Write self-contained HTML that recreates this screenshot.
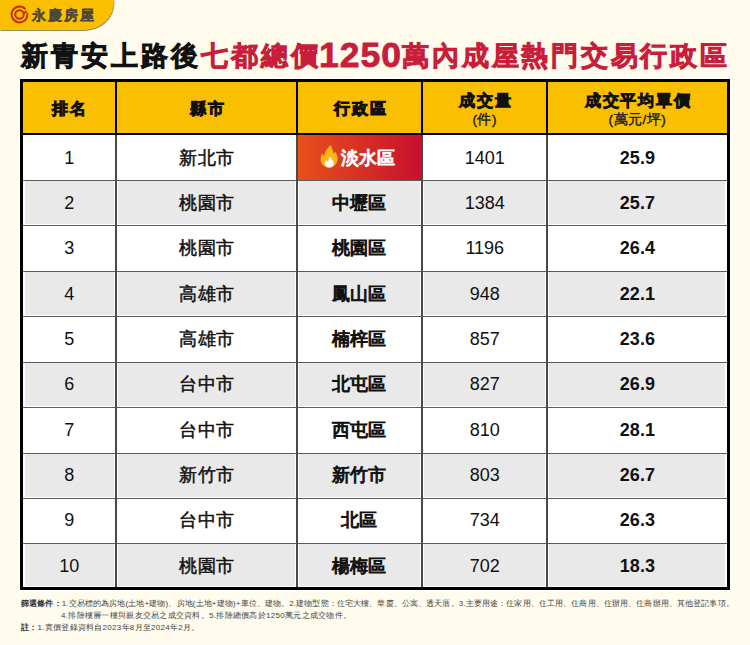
<!DOCTYPE html>
<html lang="zh-Hant">
<head>
<meta charset="utf-8">
<style>
*{margin:0;padding:0;box-sizing:border-box}
html,body{width:750px;height:645px;overflow:hidden}
body{background:#FFFCED;font-family:"Liberation Sans",sans-serif;position:relative;color:#111}
.tab{position:absolute;left:0;top:0;width:114px;height:30px;background:#F9BF00;border-bottom-right-radius:30px 28px;box-shadow:0.5px 1px 0 rgba(120,90,20,.7)}
.logo{position:absolute;left:9px;top:4px;width:21px;height:21px}
.brand{position:absolute;left:32px;top:5.5px;font-size:14px;color:#4D473A;letter-spacing:2.1px;line-height:18px;white-space:nowrap;-webkit-text-stroke:1px #4D473A}
.title{position:absolute;left:21px;top:34.5px;font-size:27px;line-height:36px;white-space:nowrap;color:#111;letter-spacing:3px;-webkit-text-stroke:1.8px #111}
.title .r{color:#C81E3C;-webkit-text-stroke:1.8px #C81E3C}
.title .d{font-size:35.5px;font-weight:700;letter-spacing:1px;-webkit-text-stroke:.8px #C81E3C;position:relative;top:2.5px;margin-right:.5px;margin-left:-2px}
.title .e{letter-spacing:2.75px}
.tbl{position:absolute;left:20px;top:79px;width:710px;height:511px;border:3px solid #000;background:#fff;box-shadow:0 0 0 1px #fff;overflow:hidden}
.hd{position:absolute;left:0;top:0;width:704px;height:53px;background:#F9BF00;border-bottom:2px solid #000}
.row{position:absolute}
.row.g{background:#E9E9E9}
.hl{position:absolute;left:0;width:704px;height:1px;background:#5c5c5c}
.vl{position:absolute;top:0;width:1.5px;height:505px;background:#4a4a4a}
.vh{position:absolute;top:0;width:2px;height:53px;background:#000}
.c{position:absolute;text-align:center;white-space:nowrap}
.hc{font-size:16px;line-height:20px;letter-spacing:1.9px;-webkit-text-stroke:1.5px #111;text-indent:1.9px}
.sub{font-size:13.5px;line-height:14px;letter-spacing:.5px;-webkit-text-stroke:.4px #222;color:#222}
.b{font-size:18px;line-height:20px}
.cj{letter-spacing:.3px;text-indent:.3px;-webkit-text-stroke:.5px #111}
.bb{font-weight:700}
.cb{font-size:17.5px;letter-spacing:0;-webkit-text-stroke:1px #111}
.red{position:absolute;left:274.8px;top:53px;width:123.4px;height:44.5px;background:linear-gradient(90deg,#E6511B,#C8102E)}
.red .fl{position:absolute;left:22px;top:10px;width:18px;height:23px}
.red .tx{position:absolute;left:43px;top:12.5px;font-size:17.5px;line-height:20px;letter-spacing:.3px;color:#fff;-webkit-text-stroke:1.1px #fff;white-space:nowrap}
.note{position:absolute;left:21px;font-size:8px;line-height:12px;color:#444;white-space:nowrap}
.note b{font-weight:700;color:#333}
i{display:inline-block;font-style:normal}
</style>
</head>
<body>
<div class="tab">
<svg class="logo" viewBox="0 0 21 21"><g fill="none" stroke="#C4301C" stroke-width="2"><path d="M16.55 5.42A7.9 7.9 0 1 0 18.4 10.5"/><circle cx="10.5" cy="10.5" r="4.2"/><path d="M14.3 9.6L17.6 7.2"/></g><path d="M17.2 8.6L20 9.6L17.8 11Z" fill="#C4301C"/></svg>
<div class="brand"><i style="width:16.1px">永</i><i style="width:16.1px">慶</i><i style="width:16.1px">房</i><i style="width:16.1px">屋</i></div>
</div>
<div class="title"><i style="width:30px">新</i><i style="width:30px">青</i><i style="width:30px">安</i><i style="width:30px">上</i><i style="width:30px">路</i><i style="width:30px">後</i><span class="r"><i style="width:30px">七</i><i style="width:30px">都</i><i style="width:30px">總</i><i style="width:30px">價</i><span class="d">1250</span><span class="e"><i style="width:29.75px">萬</i><i style="width:29.75px">內</i><i style="width:29.75px">成</i><i style="width:29.75px">屋</i><i style="width:29.75px">熱</i><i style="width:29.75px">門</i><i style="width:29.75px">交</i><i style="width:29.75px">易</i><i style="width:29.75px">行</i><i style="width:29.75px">政</i><i style="width:29.75px">區</i></span></span></div>
<div class="tbl">
<div class="hd"></div>
<div class="row g" style="left:1.50px;width:89.75px;top:98.93px;height:43.43px"></div>
<div class="row g" style="left:94.75px;width:177.50px;top:98.93px;height:43.43px"></div>
<div class="row g" style="left:275.75px;width:121.50px;top:98.93px;height:43.43px"></div>
<div class="row g" style="left:400.75px;width:121.60px;top:98.93px;height:43.43px"></div>
<div class="row g" style="left:525.85px;width:176.65px;top:98.93px;height:43.43px"></div>
<div class="row g" style="left:1.50px;width:89.75px;top:189.79px;height:43.43px"></div>
<div class="row g" style="left:94.75px;width:177.50px;top:189.79px;height:43.43px"></div>
<div class="row g" style="left:275.75px;width:121.50px;top:189.79px;height:43.43px"></div>
<div class="row g" style="left:400.75px;width:121.60px;top:189.79px;height:43.43px"></div>
<div class="row g" style="left:525.85px;width:176.65px;top:189.79px;height:43.43px"></div>
<div class="row g" style="left:1.50px;width:89.75px;top:280.65px;height:43.43px"></div>
<div class="row g" style="left:94.75px;width:177.50px;top:280.65px;height:43.43px"></div>
<div class="row g" style="left:275.75px;width:121.50px;top:280.65px;height:43.43px"></div>
<div class="row g" style="left:400.75px;width:121.60px;top:280.65px;height:43.43px"></div>
<div class="row g" style="left:525.85px;width:176.65px;top:280.65px;height:43.43px"></div>
<div class="row g" style="left:1.50px;width:89.75px;top:371.51px;height:43.43px"></div>
<div class="row g" style="left:94.75px;width:177.50px;top:371.51px;height:43.43px"></div>
<div class="row g" style="left:275.75px;width:121.50px;top:371.51px;height:43.43px"></div>
<div class="row g" style="left:400.75px;width:121.60px;top:371.51px;height:43.43px"></div>
<div class="row g" style="left:525.85px;width:176.65px;top:371.51px;height:43.43px"></div>
<div class="row g" style="left:1.50px;width:89.75px;top:462.37px;height:41.63px"></div>
<div class="row g" style="left:94.75px;width:177.50px;top:462.37px;height:41.63px"></div>
<div class="row g" style="left:275.75px;width:121.50px;top:462.37px;height:41.63px"></div>
<div class="row g" style="left:400.75px;width:121.60px;top:462.37px;height:41.63px"></div>
<div class="row g" style="left:525.85px;width:176.65px;top:462.37px;height:41.63px"></div>
<div class="red"><svg class="fl" viewBox="0 0 18 23"><path d="M10.8 0C11.5 3 13 5 13.6 8.6C14 8 14.6 7.5 15 6.7C17 9 17.8 11.5 17.6 14C17.4 19 13.5 22.6 9 22.6C4.5 22.6 .6 19 .6 14.5C.6 11.5 1.8 9.8 2.6 8.5C3 10 3.6 10.8 4.2 11.2C4.5 6.5 7.5 3 10.8 0Z" fill="#FBB616"/><path d="M10.3 11.4C11 14 13.8 15.5 13.8 18.5C13.8 21 11.8 22.6 9.3 22.6C6.8 22.6 5 21 5 18.8C5 17 6 16 6.8 15C7.2 16.3 7.7 16.8 8.3 17C8.3 15 9 13 10.3 11.4Z" fill="#fff"/></svg><span class="tx">淡水區</span></div>
<div class="hl" style="top:97.93px"></div>
<div class="hl" style="top:143.36px"></div>
<div class="hl" style="top:188.79px"></div>
<div class="hl" style="top:234.22px"></div>
<div class="hl" style="top:279.65px"></div>
<div class="hl" style="top:325.08px"></div>
<div class="hl" style="top:370.51px"></div>
<div class="hl" style="top:415.94px"></div>
<div class="hl" style="top:461.37px"></div>
<div class="vl" style="left:92.25px"></div>
<div class="vh" style="left:92.00px"></div>
<div class="vl" style="left:273.25px"></div>
<div class="vh" style="left:273.00px"></div>
<div class="vl" style="left:398.25px"></div>
<div class="vh" style="left:398.00px"></div>
<div class="vl" style="left:523.35px"></div>
<div class="vh" style="left:523.10px"></div>
<div class="c hc" style="left:0.0px;width:92.7px;top:16.5px">排名</div>
<div class="c hc" style="left:93.7px;width:180.0px;top:16.5px">縣市</div>
<div class="c hc" style="left:274.7px;width:124.0px;top:16.5px">行政區</div>
<div class="c hc" style="left:399.7px;width:124.1px;top:9px">成交量</div>
<div class="c sub" style="left:399.7px;width:124.1px;top:31px">(件)</div>
<div class="c hc" style="left:524.8px;width:179.2px;top:9px">成交平均單價</div>
<div class="c sub" style="left:524.8px;width:179.2px;top:31px">(萬元/坪)</div>
<div class="c b" style="left:0.0px;width:92.7px;top:65.72px">1</div>
<div class="c b cj" style="left:93.7px;width:180.0px;top:65.72px">新北市</div>
<div class="c b" style="left:399.7px;width:124.1px;top:65.72px">1401</div>
<div class="c b bb" style="left:524.8px;width:179.2px;top:65.72px">25.9</div>
<div class="c b" style="left:0.0px;width:92.7px;top:111.05px">2</div>
<div class="c b cj" style="left:93.7px;width:180.0px;top:111.05px">桃園市</div>
<div class="c b cb" style="left:273.7px;width:124.0px;top:111.05px">中壢區</div>
<div class="c b" style="left:399.7px;width:124.1px;top:111.05px">1384</div>
<div class="c b bb" style="left:524.8px;width:179.2px;top:111.05px">25.7</div>
<div class="c b" style="left:0.0px;width:92.7px;top:156.38px">3</div>
<div class="c b cj" style="left:93.7px;width:180.0px;top:156.38px">桃園市</div>
<div class="c b cb" style="left:273.7px;width:124.0px;top:156.38px">桃園區</div>
<div class="c b" style="left:399.7px;width:124.1px;top:156.38px">1196</div>
<div class="c b bb" style="left:524.8px;width:179.2px;top:156.38px">26.4</div>
<div class="c b" style="left:0.0px;width:92.7px;top:201.71px">4</div>
<div class="c b cj" style="left:93.7px;width:180.0px;top:201.71px">高雄市</div>
<div class="c b cb" style="left:273.7px;width:124.0px;top:201.71px">鳳山區</div>
<div class="c b" style="left:399.7px;width:124.1px;top:201.71px">948</div>
<div class="c b bb" style="left:524.8px;width:179.2px;top:201.71px">22.1</div>
<div class="c b" style="left:0.0px;width:92.7px;top:247.03px">5</div>
<div class="c b cj" style="left:93.7px;width:180.0px;top:247.03px">高雄市</div>
<div class="c b cb" style="left:273.7px;width:124.0px;top:247.03px">楠梓區</div>
<div class="c b" style="left:399.7px;width:124.1px;top:247.03px">857</div>
<div class="c b bb" style="left:524.8px;width:179.2px;top:247.03px">23.6</div>
<div class="c b" style="left:0.0px;width:92.7px;top:292.37px">6</div>
<div class="c b cj" style="left:93.7px;width:180.0px;top:292.37px">台中市</div>
<div class="c b cb" style="left:273.7px;width:124.0px;top:292.37px">北屯區</div>
<div class="c b" style="left:399.7px;width:124.1px;top:292.37px">827</div>
<div class="c b bb" style="left:524.8px;width:179.2px;top:292.37px">26.9</div>
<div class="c b" style="left:0.0px;width:92.7px;top:337.70px">7</div>
<div class="c b cj" style="left:93.7px;width:180.0px;top:337.70px">台中市</div>
<div class="c b cb" style="left:273.7px;width:124.0px;top:337.70px">西屯區</div>
<div class="c b" style="left:399.7px;width:124.1px;top:337.70px">810</div>
<div class="c b bb" style="left:524.8px;width:179.2px;top:337.70px">28.1</div>
<div class="c b" style="left:0.0px;width:92.7px;top:383.02px">8</div>
<div class="c b cj" style="left:93.7px;width:180.0px;top:383.02px">新竹市</div>
<div class="c b cb" style="left:273.7px;width:124.0px;top:383.02px">新竹市</div>
<div class="c b" style="left:399.7px;width:124.1px;top:383.02px">803</div>
<div class="c b bb" style="left:524.8px;width:179.2px;top:383.02px">26.7</div>
<div class="c b" style="left:0.0px;width:92.7px;top:428.36px">9</div>
<div class="c b cj" style="left:93.7px;width:180.0px;top:428.36px">台中市</div>
<div class="c b cb" style="left:273.7px;width:124.0px;top:428.36px">北區</div>
<div class="c b" style="left:399.7px;width:124.1px;top:428.36px">734</div>
<div class="c b bb" style="left:524.8px;width:179.2px;top:428.36px">26.3</div>
<div class="c b" style="left:0.0px;width:92.7px;top:473.68px">10</div>
<div class="c b cj" style="left:93.7px;width:180.0px;top:473.68px">桃園市</div>
<div class="c b cb" style="left:273.7px;width:124.0px;top:473.68px">楊梅區</div>
<div class="c b" style="left:399.7px;width:124.1px;top:473.68px">702</div>
<div class="c b bb" style="left:524.8px;width:179.2px;top:473.68px">18.3</div>
</div>
<div class="note" style="top:597.5px;letter-spacing:.14px"><b><i style="width:8.14px">篩</i><i style="width:8.14px">選</i><i style="width:8.14px">條</i><i style="width:8.14px">件</i><i style="width:8.14px">：</i></b>1.<i style="width:8.14px">交</i><i style="width:8.14px">易</i><i style="width:8.14px">標</i><i style="width:8.14px">的</i><i style="width:8.14px">為</i><i style="width:8.14px">房</i><i style="width:8.14px">地</i>(<i style="width:8.14px">土</i><i style="width:8.14px">地</i>+<i style="width:8.14px">建</i><i style="width:8.14px">物</i>)<i style="width:8.14px">、</i><i style="width:8.14px">房</i><i style="width:8.14px">地</i>(<i style="width:8.14px">土</i><i style="width:8.14px">地</i>+<i style="width:8.14px">建</i><i style="width:8.14px">物</i>)+<i style="width:8.14px">車</i><i style="width:8.14px">位</i><i style="width:8.14px">、</i><i style="width:8.14px">建</i><i style="width:8.14px">物</i><i style="width:8.14px">。</i>2.<i style="width:8.14px">建</i><i style="width:8.14px">物</i><i style="width:8.14px">型</i><i style="width:8.14px">態</i><i style="width:8.14px">：</i><i style="width:8.14px">住</i><i style="width:8.14px">宅</i><i style="width:8.14px">大</i><i style="width:8.14px">樓</i><i style="width:8.14px">、</i><i style="width:8.14px">華</i><i style="width:8.14px">廈</i><i style="width:8.14px">、</i><i style="width:8.14px">公</i><i style="width:8.14px">寓</i><i style="width:8.14px">、</i><i style="width:8.14px">透</i><i style="width:8.14px">天</i><i style="width:8.14px">厝</i><i style="width:8.14px">。</i>3.<i style="width:8.14px">主</i><i style="width:8.14px">要</i><i style="width:8.14px">用</i><i style="width:8.14px">途</i><i style="width:8.14px">：</i><i style="width:8.14px">住</i><i style="width:8.14px">家</i><i style="width:8.14px">用</i><i style="width:8.14px">、</i><i style="width:8.14px">住</i><i style="width:8.14px">工</i><i style="width:8.14px">用</i><i style="width:8.14px">、</i><i style="width:8.14px">住</i><i style="width:8.14px">商</i><i style="width:8.14px">用</i><i style="width:8.14px">、</i><i style="width:8.14px">住</i><i style="width:8.14px">辦</i><i style="width:8.14px">用</i><i style="width:8.14px">、</i><i style="width:8.14px">住</i><i style="width:8.14px">商</i><i style="width:8.14px">辦</i><i style="width:8.14px">用</i><i style="width:8.14px">、</i><i style="width:8.14px">其</i><i style="width:8.14px">他</i><i style="width:8.14px">登</i><i style="width:8.14px">記</i><i style="width:8.14px">事</i><i style="width:8.14px">項</i><i style="width:8.14px">。</i></div>
<div class="note" style="top:610px;left:61px;letter-spacing:.29px">4.<i style="width:8.29px">排</i><i style="width:8.29px">除</i><i style="width:8.29px">樓</i><i style="width:8.29px">層</i><i style="width:8.29px">一</i><i style="width:8.29px">樓</i><i style="width:8.29px">與</i><i style="width:8.29px">親</i><i style="width:8.29px">友</i><i style="width:8.29px">交</i><i style="width:8.29px">易</i><i style="width:8.29px">之</i><i style="width:8.29px">成</i><i style="width:8.29px">交</i><i style="width:8.29px">資</i><i style="width:8.29px">料</i><i style="width:8.29px">。</i>5.<i style="width:8.29px">排</i><i style="width:8.29px">除</i><i style="width:8.29px">總</i><i style="width:8.29px">價</i><i style="width:8.29px">高</i><i style="width:8.29px">於</i>1250<i style="width:8.29px">萬</i><i style="width:8.29px">元</i><i style="width:8.29px">之</i><i style="width:8.29px">成</i><i style="width:8.29px">交</i><i style="width:8.29px">物</i><i style="width:8.29px">件</i><i style="width:8.29px">。</i></div>
<div class="note" style="top:622px;letter-spacing:.27px"><b><i style="width:8.27px">註</i><i style="width:8.27px">：</i></b>1.<i style="width:8.27px">實</i><i style="width:8.27px">價</i><i style="width:8.27px">登</i><i style="width:8.27px">錄</i><i style="width:8.27px">資</i><i style="width:8.27px">料</i><i style="width:8.27px">自</i>2023<i style="width:8.27px">年</i>8<i style="width:8.27px">月</i><i style="width:8.27px">至</i>2024<i style="width:8.27px">年</i>2<i style="width:8.27px">月</i><i style="width:8.27px">。</i></div>
</body>
</html>
